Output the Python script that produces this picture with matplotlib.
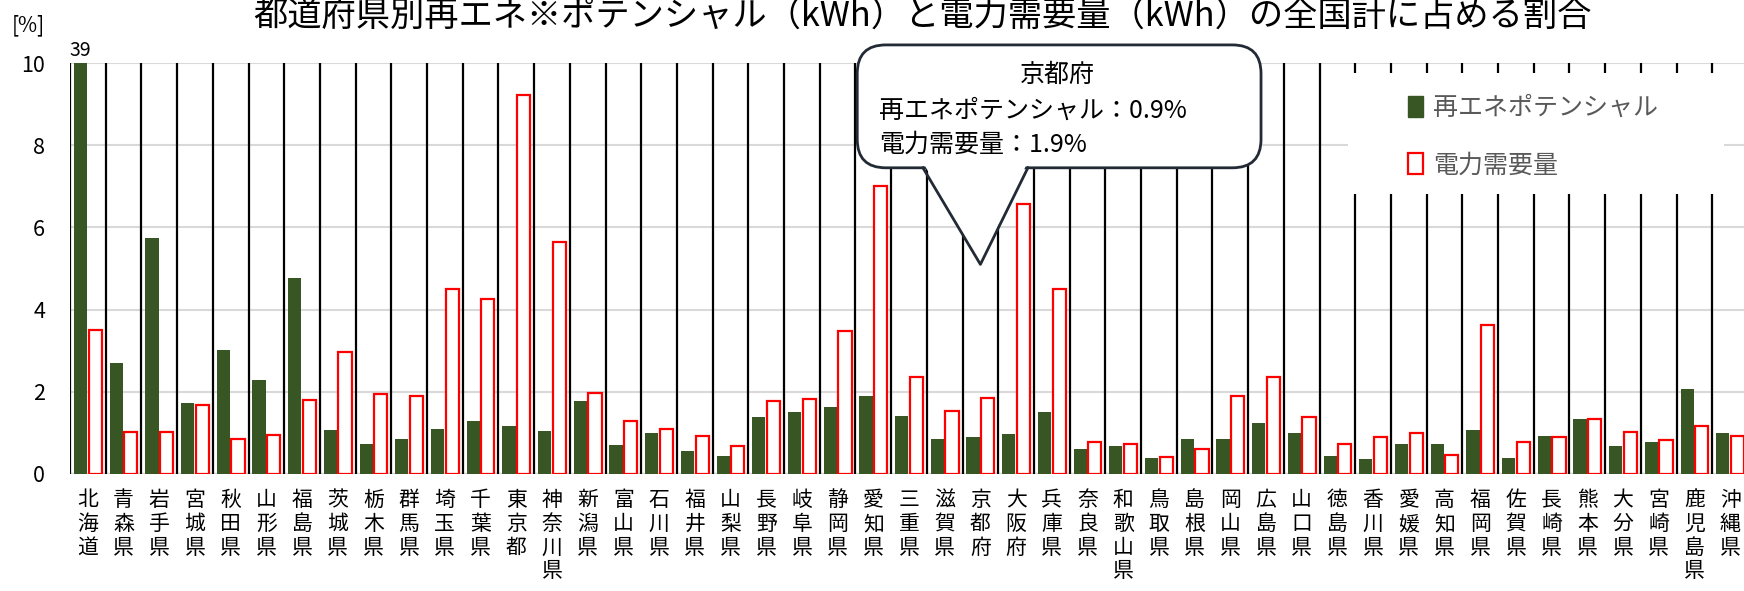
import matplotlib
matplotlib.use('Agg')
import matplotlib.pyplot as plt
from matplotlib.patches import FancyBboxPatch, Polygon, Patch, Rectangle, Shadow
import numpy as np

plt.rcParams['font.family'] = ['Noto Sans CJK JP', 'DejaVu Sans']

prefectures = ['北海道', '青森県', '岩手県', '宮城県', '秋田県', '山形県', '福島県',
               '茨城県', '栃木県', '群馬県', '埼玉県', '千葉県', '東京都', '神奈川県',
               '新潟県', '富山県', '石川県', '福井県', '山梨県', '長野県', '岐阜県',
               '静岡県', '愛知県', '三重県', '滋賀県', '京都府', '大阪府', '兵庫県',
               '奈良県', '和歌山県', '鳥取県', '島根県', '岡山県', '広島県', '山口県',
               '徳島県', '香川県', '愛媛県', '高知県', '福岡県', '佐賀県', '長崎県',
               '熊本県', '大分県', '宮崎県', '鹿児島県', '沖縄県']

# 再エネポテンシャル [%]
renewable = [39.0, 2.71, 5.74, 1.72, 3.01, 2.28, 4.77,
             1.06, 0.74, 0.85, 1.09, 1.29, 1.17, 1.04,
             1.78, 0.71, 0.99, 0.56, 0.43, 1.38, 1.51,
             1.64, 1.90, 1.42, 0.85, 0.90, 0.97, 1.52,
             0.62, 0.69, 0.39, 0.84, 0.86, 1.25, 1.00,
             0.45, 0.37, 0.72, 0.73, 1.07, 0.39, 0.93,
             1.34, 0.67, 0.78, 2.07, 1.00]

# 電力需要量 [%]
demand = [3.50, 1.03, 1.01, 1.68, 0.85, 0.94, 1.80,
          2.97, 1.95, 1.90, 4.50, 4.26, 9.22, 5.65,
          1.96, 1.29, 1.10, 0.92, 0.69, 1.77, 1.82,
          3.47, 7.00, 2.37, 1.54, 1.85, 6.56, 4.51,
          0.79, 0.73, 0.41, 0.62, 1.90, 2.35, 1.39,
          0.72, 0.89, 1.00, 0.47, 3.62, 0.77, 0.90,
          1.35, 1.02, 0.83, 1.16, 0.92]

yticks = [0, 2, 4, 6, 8, 10]
title = '都道府県別再エネ※ポテンシャル（kWh）と電力需要量（kWh）の全国計に占める割合'

green = '#375623'
red = '#ff0000'

fig = plt.figure(figsize=(17.44, 5.91), dpi=100)
ax = fig.add_axes([70 / 1744, 117 / 591, 1678 / 1744, 411 / 591])

x = np.arange(len(prefectures))
w = 0.37
ax.bar(x - 0.205, renewable, w, color=green, zorder=3)
ax.bar(x + 0.205, demand, w, facecolor='white', edgecolor=red, linewidth=1.6, zorder=3)

# 区切り線
ax.vlines(np.arange(len(prefectures) + 1) - 0.5, 0, 10, colors='black', lw=1.6, zorder=2)

ax.set_xlim(-0.5, len(prefectures) - 0.5)
ax.set_ylim(0, 10)
ax.set_yticks(yticks)
ax.yaxis.grid(True, color='#d9d9d9', lw=1.5, zorder=0)
ax.axhline(0, color='#d9d9d9', lw=2.5, zorder=1)
for s in ax.spines.values():
    s.set_visible(False)
ax.set_xticks(x)
ax.set_xticklabels(['\n'.join(p) for p in prefectures], fontsize=15, linespacing=1.1,
                   va='top')
ax.tick_params(axis='x', length=0, pad=11)
ax.tick_params(axis='y', length=0, labelsize=15.5, pad=18)

# 北海道は軸外
ax.text(0 - 0.205, 10.05, '%d' % renewable[0], ha='center', va='bottom', fontsize=14,
        clip_on=False)

fig.text(28 / 1744, 1 - 25 / 591, '[%]', ha='center', va='center', fontsize=15)
fig.text(922 / 1744, 1 - 16 / 591, title, ha='center', va='center', fontsize=24.7)

# 吹き出し（京都府）
kyoto = prefectures.index('京都府')
bx0, bx1, by0, by1 = 21.55, 32.86, 7.45, 10.44
box = FancyBboxPatch((bx0, by0), bx1 - bx0, by1 - by0,
                     boxstyle='round,pad=0,rounding_size=0.8', mutation_aspect=0.87,
                     facecolor='white', edgecolor='#222a35', lw=2, clip_on=False, zorder=6)
ax.add_patch(box)
tip = (kyoto, 5.1)
px0, px1 = 23.39, 26.33
ax.add_patch(Polygon([(px0 + 0.05, by0 + 0.06), (px1 - 0.05, by0 + 0.06), tip],
                     closed=True, facecolor='white', edgecolor='none', zorder=7))
ax.plot([px0, tip[0], px1], [by0, tip[1], by0], color='#222a35', lw=2, zorder=7)
ax.text(27.15, 9.7, prefectures[kyoto], ha='center', va='center', fontsize=18, zorder=8)
ax.text(22.15, 8.85, '再エネポテンシャル：%.1f%%' % renewable[kyoto], ha='left', va='center',
        fontsize=18, zorder=8)
ax.text(22.15, 8.0, '電力需要量：%.1f%%' % demand[kyoto], ha='left', va='center',
        fontsize=18, zorder=8)

# 凡例
bg = Rectangle((0.7616, 0.681), 0.2241, 0.2947, transform=ax.transAxes,
               facecolor='white', edgecolor='none', zorder=6, clip_on=False)
sh = Shadow(bg, 3, -3, facecolor='#bfbfbf', alpha=0.5, zorder=5.5)
ax.add_patch(sh)
ax.add_patch(bg)
handles = [Patch(facecolor=green, edgecolor=green, label='再エネポテンシャル'),
           Patch(facecolor='white', edgecolor=red, lw=1.6, label='電力需要量')]
leg = ax.legend(handles=handles, loc='upper left', bbox_to_anchor=(0.790, 0.952),
                frameon=False, fontsize=18, labelcolor='#595959', handlelength=0.6,
                handleheight=0.9, handletextpad=0.4, labelspacing=1.25, borderpad=0)
leg.set_zorder(8)

fig.savefig('out.png', dpi=100)
